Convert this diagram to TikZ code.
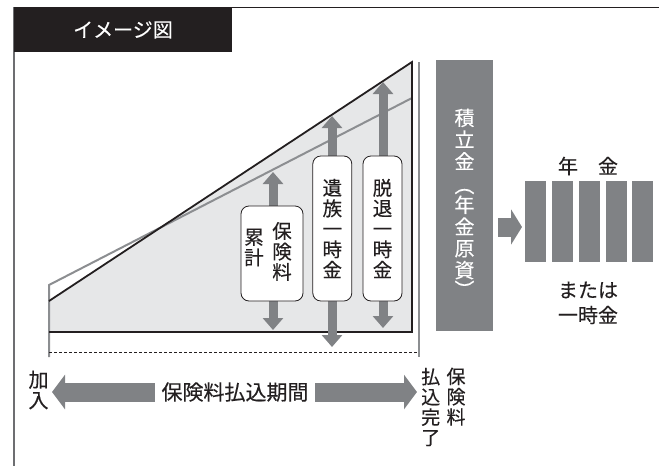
\documentclass[tikz,border=0pt]{standalone}
\usepackage{fontspec}
\setmainfont{Noto Sans CJK JP}[FakeBold=0.3]
\usetikzlibrary{arrows.meta}
\definecolor{ink}{HTML}{231F20}
\definecolor{midgray}{HTML}{808285}
\definecolor{lightfill}{HTML}{E6E7E8}
\definecolor{linegray}{HTML}{8C8E91}
\definecolor{framegray}{HTML}{6D6E71}
\tikzset{
  vtext/.style={align=center, inner sep=0pt, text=ink, font=\fontsize{19.5}{20.5}\selectfont},
  label/.style={align=center, inner sep=0pt, text=ink, font=\fontsize{20}{20.5}\selectfont},
  roundbox/.style={draw=ink, line width=0.8pt, fill=white, rounded corners=8pt, inner sep=0pt},
  dblarrow/.style={draw=midgray, line width=9pt, {Triangle[width=20pt,length=12pt]}-{Triangle[width=20pt,length=12pt]}},
  longarrow/.style={draw=midgray, line width=19pt, {Triangle[width=34pt,length=13pt]}-{Triangle[width=34pt,length=13pt]}},
  blockarrow/.style={draw=midgray, line width=19pt, -{Triangle[width=35pt,length=11pt]}},
  bar/.style={fill=midgray, draw=none, minimum width=21pt, minimum height=81pt, inner sep=0pt},
}
\begin{document}
\begin{tikzpicture}[x=1pt,y=-1pt]
\useasboundingbox (0,0) rectangle (659,466);
% frame
\draw[ink, line width=1pt] (14,7) -- (659,7);
\draw[framegray, line width=1.3pt] (14,7) -- (14,466);
\node[fill=ink, minimum width=218pt, minimum height=45pt, inner sep=0pt, anchor=north west] (title) at (14,7) {};
\node[text=white, inner sep=0pt, font=\fontsize{20}{22}\selectfont] (titletext) at (123,30) {イメージ図};

% triangle area
\fill[lightfill] (49,301) -- (412,62) -- (412,332) -- (49,332) -- cycle;
\draw[linegray, line width=2pt] (49,357) -- (49,285) -- (412,98);
\draw[ink, line width=1.8pt, line join=miter] (49,301) -- (412,62) -- (412,332) -- (49,332);
\draw[ink, line width=0.7pt, dash pattern=on 3pt off 2pt] (49,352) -- (419,352);
\draw[linegray, line width=2.2pt] (419,62) -- (419,357);

% vertical double arrows
\coordinate (a1t) at (273,172);
\coordinate (a1b) at (273,330);
\coordinate (a2t) at (332,116);
\coordinate (a2b) at (332,347);
\coordinate (a3t) at (383,82);
\coordinate (a3b) at (383,328);
\draw[dblarrow] (a1t) -- (a1b);
\draw[dblarrow] (a2t) -- (a2b);
\draw[dblarrow] (a3t) -- (a3b);

% boxes
\node[roundbox, minimum width=62pt, minimum height=95pt] (box1) at (272,253.5) {};
\node[vtext] (box1a) at (282,251.5) {保\\険\\料};
\node[vtext] (box1b) at (254,247.5) {累\\計};
\node[roundbox, minimum width=39pt, minimum height=145pt, vtext] (box2) at (332.3,228.5) {遺\\族\\一\\時\\金};
\node[roundbox, minimum width=39pt, minimum height=145pt, vtext] (box3) at (382.5,228.5) {脱\\退\\一\\時\\金};

% fund column
\node[fill=midgray, minimum width=57pt, minimum height=271pt, inner sep=0pt] (fund) at (464.5,195.5) {};
\node[align=center, inner sep=0pt, text=white, font=\fontsize{20}{21.75}\selectfont] (fundtext) at (464.5,204) {積\\立\\金\\\smash{\raisebox{-2pt}{︵}}\\年\\金\\原\\資\\\smash{\raisebox{2pt}{︶}}};

% arrow to bars
\coordinate (ra1) at (498,227);
\coordinate (ra2) at (522,227);
\draw[blockarrow] (ra1) -- (ra2);

% bars
\node[bar] (b1) at (535.5,221.5) {};
\node[bar] (b2) at (562.8,221.5) {};
\node[bar] (b3) at (589.7,221.5) {};
\node[bar] (b4) at (616.4,221.5) {};
\node[bar] (b5) at (642.8,221.5) {};
\node[label] (nenkin) at (588,166) {年　金};
\node[label] (or) at (588,290) {または};
\node[label] (lump) at (588,315) {一時金};

% bottom arrow
\coordinate (la) at (52,392);
\coordinate (lb) at (417,392);
\draw[longarrow] (la) -- (lb);
\node[fill=white, minimum width=160pt, minimum height=26pt, inner sep=0pt, text=ink, font=\fontsize{21}{22}\selectfont] (period) at (235,392) {保険料払込期間};
\node[label] (join) at (38.5,390) {加\\入};
\node[label, font=\fontsize{19}{20.3}\selectfont] (endA) at (456,396.7) {保\\険\\料};
\node[label, font=\fontsize{19}{20.3}\selectfont] (endB) at (430.7,407) {払\\込\\完\\了};
\end{tikzpicture}
\end{document}
